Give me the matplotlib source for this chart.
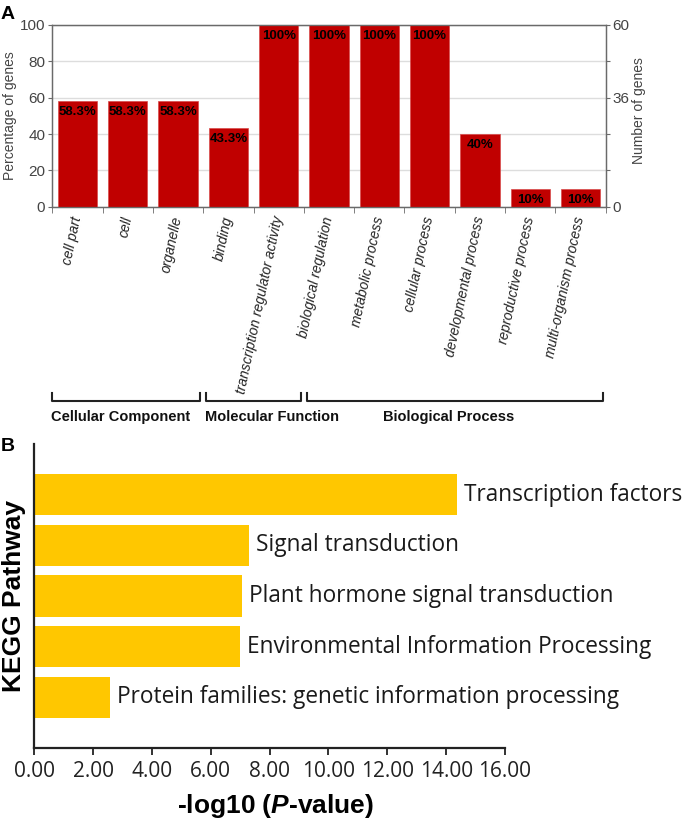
import matplotlib
matplotlib.use("Agg")
import matplotlib.pyplot as plt
import matplotlib.transforms as mtransforms
from matplotlib.lines import Line2D

# ---------------- data ----------------
go_terms = ["cell part", "cell", "organelle", "binding",
            "transcription regulator activity", "biological regulation",
            "metabolic process", "cellular process", "developmental process",
            "reproductive process", "multi-organism process"]
go_percent = [58.3, 58.3, 58.3, 43.3, 100, 100, 100, 100, 40, 10, 10]
gene_axis_max = 60
gene_ticks = [0, 12, 24, 36, 48, 60]
gene_tick_labels = ["0", "", "", "36", "", "60"]
go_groups = ["Cellular Component", "Molecular Function", "Biological Process"]
go_group_span = [(0, 2), (3, 4), (5, 10)]

kegg_pathways = ["Transcription factors", "Signal transduction",
                 "Plant hormone signal transduction",
                 "Environmental Information Processing",
                 "Protein families: genetic information processing"]
kegg_logp = [14.38, 7.31, 7.07, 6.98, 2.56]
kegg_xticks = [0, 2, 4, 6, 8, 10, 12, 14, 16]

# ---------------- figure ----------------
W, H = 685, 822
fig = plt.figure(figsize=(W / 100, H / 100), dpi=100)
plt.rcParams['mathtext.fontset'] = 'custom'
plt.rcParams['mathtext.it'] = 'Liberation Sans:italic:bold'
plt.rcParams['mathtext.rm'] = 'Liberation Sans:bold'

def fx(px):
    return px / W

def fy(py):
    return 1 - py / H

ARIAL = "Liberation Sans"
RED = "#C00000"
YEL = "#FFC700"
GRAY = "#6a6a6a"

# ---------------- Panel A ----------------
axA = fig.add_axes([fx(52.3), fy(206.7), fx(605.7) - fx(52.3), fy(25) - fy(206.7)])
xpos = list(range(len(go_terms)))
bars = axA.bar(xpos, go_percent, width=0.78, color=RED, edgecolor="#d84a4a",
               linewidth=0.5, zorder=3)
axA.set_xlim(-0.5, len(go_terms) - 0.5)
axA.set_ylim(0, 100)
axA.set_yticks([0, 20, 40, 60, 80, 100])
axA.yaxis.grid(True, color="#dddddd", linewidth=1.0, zorder=0)
axA.set_axisbelow(True)
for s in axA.spines.values():
    s.set_color(GRAY)
    s.set_linewidth(0.9)
axA.tick_params(axis="y", direction="out", length=3, color=GRAY,
                labelsize=11, labelcolor="#444444", pad=2)
for lab in axA.get_yticklabels():
    lab.set_fontfamily(ARIAL)

axA.set_xticks(xpos)
axA.set_xticklabels(go_terms, rotation=78, ha="right", va="center",
                    rotation_mode="anchor", fontsize=10, style="italic",
                    family=ARIAL, color="#222222")
axA.tick_params(axis="x", which="major", length=0, pad=7)
axA.set_xticks([x + 0.5 for x in xpos[:-1]] + [-0.5, len(go_terms) - 0.5], minor=True)
axA.tick_params(axis="x", which="minor", length=4, color=GRAY, direction="out")

for b, v in zip(bars, go_percent):
    axA.annotate(f"{v:g}%", (b.get_x() + b.get_width() / 2, v),
                 xytext=(0, -8), textcoords="offset points",
                 ha="center", va="center", fontsize=9.5, fontweight="bold",
                 family=ARIAL, color="black", zorder=4)

axA2 = axA.twinx()
axA2.set_ylim(0, gene_axis_max)
axA2.set_yticks(gene_ticks)
axA2.set_yticklabels(gene_tick_labels)
for s in axA2.spines.values():
    s.set_color(GRAY)
    s.set_linewidth(0.9)
axA2.tick_params(axis="y", direction="out", length=3, color=GRAY,
                 labelsize=11, labelcolor="#444444", pad=2)
for lab in axA2.get_yticklabels():
    lab.set_fontfamily(ARIAL)

fig.text(fx(10), fy(116), "Percentage of genes", rotation=90, ha="center",
         va="center", fontsize=10, family=ARIAL, color="#444444")
fig.text(fx(639), fy(111), "Number of genes", rotation=90, ha="center",
         va="center", fontsize=10, family=ARIAL, color="#444444")
fig.text(fx(1), fy(6), "A", ha="left", va="top", fontsize=14,
         fontweight="bold", family=ARIAL)

# group brackets
btr = mtransforms.blended_transform_factory(axA.transData, fig.transFigure)
gap = 0.06
text_x = [0.856, 3.868, 7.387]
for name, (a, b), tx in zip(go_groups, go_group_span, text_x):
    x0 = a - 0.5 + (gap if a > 0 else -0.01)
    x1 = b + 0.5 - gap
    fig.add_artist(Line2D([x0, x0, x1, x1],
                          [fy(393), fy(400.7), fy(400.7), fy(393)],
                          transform=btr, color="#222222", linewidth=1.5))
    fig.text(tx, fy(416.7), name, transform=btr, ha="center", va="center",
             fontsize=10.5, fontweight="bold", family=ARIAL, color="#111111")

# ---------------- Panel B ----------------
axB = fig.add_axes([fx(34.3), fy(748), fx(505) - fx(34.3), fy(444) - fy(748)])
n = len(kegg_pathways)
ypos = [n - 1 - i for i in range(n)]
axB.barh(ypos, kegg_logp, height=0.81, color=YEL, zorder=2)
axB.set_xlim(0, 16)
axB.set_ylim(-1, n)
axB.set_yticks([])
axB.set_xticks(kegg_xticks)
axB.set_xticklabels([f"{t:.2f}" for t in kegg_xticks], family="Open Sans",
                    fontsize=15, color="#222222")
axB.tick_params(axis="x", direction="out", length=5, width=1.3,
                color="#222222", pad=4)
for s in ["top", "right"]:
    axB.spines[s].set_visible(False)
for s in ["left", "bottom"]:
    axB.spines[s].set_linewidth(1.6)
    axB.spines[s].set_color("#222222")

for y, v, name in zip(ypos, kegg_logp, kegg_pathways):
    axB.annotate(name, (v, y), xytext=(5, 0), textcoords="offset points",
                 ha="left", va="center", fontsize=16.3, family="Open Sans",
                 color="#1a1a1a", annotation_clip=False)

fig.text(fx(14), fy(596), "KEGG Pathway", rotation=90, ha="center",
         va="center", fontsize=19, fontweight="bold", family=ARIAL)
fig.text(fx(276), fy(806), r"-log10 ($\mathit{P}$-value)", ha="center",
         va="center", fontsize=19, fontweight="bold", family=ARIAL)
fig.text(fx(1), fy(438), "B", ha="left", va="top", fontsize=14,
         fontweight="bold", family=ARIAL)

fig.savefig("out.png", dpi=100)
